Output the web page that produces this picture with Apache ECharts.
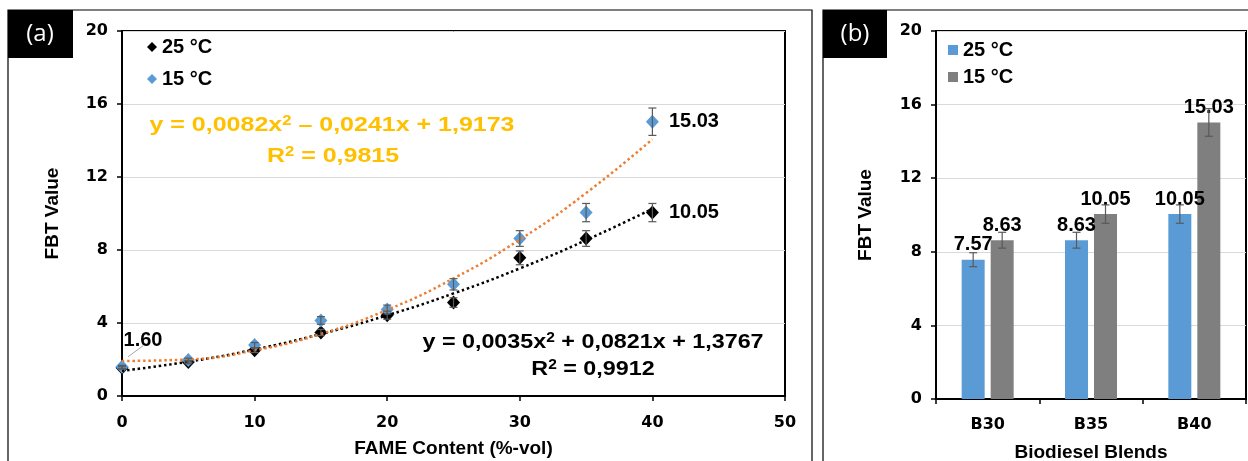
<!DOCTYPE html>
<html>
<head>
<meta charset="utf-8">
<script src="https://cdn.jsdelivr.net/npm/echarts@6/dist/echarts.min.js"></script>
<style>
html,body{margin:0;padding:0;background:#fff;}
#chart{width:1248px;height:461px;}
</style>
</head>
<body>
<div id="chart"></div>
<script>
// ---- Data ----
const fameContent = [0, 5, 10, 15, 20, 25, 30, 35, 40];
const fbt25 = [1.55, 1.86, 2.51, 3.48, 4.43, 5.12, 7.57, 8.63, 10.05];
const fbt15 = [1.60, 1.97, 2.79, 4.14, 4.74, 6.12, 8.63, 10.05, 15.03];
const err25 = [0.08, 0.09, 0.13, 0.17, 0.22, 0.26, 0.38, 0.43, 0.50];
const err15 = [0.08, 0.10, 0.14, 0.21, 0.24, 0.31, 0.43, 0.50, 0.75];
// trendline values read at the sample x positions
const trendX = [0, 5, 10, 15, 20, 25, 30, 35, 40];
const trend25 = [1.38, 1.88, 2.55, 3.40, 4.42, 5.62, 6.99, 8.54, 10.26];
const trend15 = [1.92, 2.00, 2.50, 3.40, 4.72, 6.44, 8.57, 11.12, 14.07];
const eq25 = ['y = 0,0035x² + 0,0821x + 1,3767', 'R² = 0,9912'];
const eq15 = ['y = 0,0082x² – 0,0241x + 1,9173', 'R² = 0,9815'];

const blends = ['B30', 'B35', 'B40'];
const bar25 = [7.57, 8.63, 10.05];
const bar15 = [8.63, 10.05, 15.03];
const barErr25 = [0.38, 0.43, 0.50];
const barErr15 = [0.43, 0.50, 0.75];

const seriesNames = ['25 °C', '15 °C'];
const xTicks = [0, 10, 20, 30, 40, 50];
const yTicks = [0, 4, 8, 12, 16, 20];

// ---- Styles ----
const FONT = '"Liberation Sans", Arial, sans-serif';
const TICKFONT = '"DejaVu Sans", sans-serif';
const BLUE = '#5B9BD5', GRAY = '#7F7F7F', ORANGE = '#ED7D31', GOLD = '#FFC000';
const ERRC = '#595959';
const BAR_W = 23, BAR_GAP_PX = 6;

function tickLabel() {
  return { color: '#000', fontFamily: TICKFONT, fontWeight: 'bold', fontSize: 16 };
}
function errRender(offsetPx) {
  return function (params, api) {
    const x = api.value(0), y = api.value(1), e = api.value(2);
    const t = api.coord([x, y + e]);
    const b = api.coord([x, y - e]);
    const cx = t[0] + offsetPx;
    const hw = 4;
    const st = { stroke: ERRC, lineWidth: 1.2 };
    return { type: 'group', children: [
      { type: 'line', shape: { x1: cx, y1: t[1], x2: cx, y2: b[1] }, style: st },
      { type: 'line', shape: { x1: cx - hw, y1: t[1], x2: cx + hw, y2: t[1] }, style: st },
      { type: 'line', shape: { x1: cx - hw, y1: b[1], x2: cx + hw, y2: b[1] }, style: st }
    ]};
  };
}

const lastIdx = fameContent.length - 1;
const valueLabel = { fontFamily: FONT, fontWeight: 'bold', fontSize: 20, color: '#000' };
const fmt2 = p => (Array.isArray(p.value) ? p.value[1] : p.value).toFixed(2);

const data25 = fameContent.map((x, i) => {
  const d = { value: [x, fbt25[i]] };
  if (i === lastIdx) d.label = Object.assign({ show: true, position: 'right', distance: 10, formatter: fmt2 }, valueLabel);
  return d;
});
const data15 = fameContent.map((x, i) => {
  const d = { value: [x, fbt15[i]] };
  if (i === lastIdx) d.label = Object.assign({ show: true, position: 'right', distance: 10, formatter: fmt2 }, valueLabel);
  if (i === 0) d.label = Object.assign({ show: true, position: 'top', distance: 5, formatter: fmt2 }, valueLabel);
  return d;
});

function eqText(s) { return s.replace('²', '{sup|2}'); }
function eqStyle(s, color) {
  return {
    text: eqText(s), fill: color, fontFamily: FONT, fontWeight: 'bold', fontSize: 21,
    textAlign: 'center', textVerticalAlign: 'middle',
    rich: { sup: { fill: color, fontFamily: FONT, fontWeight: 'bold', fontSize: 14, verticalAlign: 'top', lineHeight: 21 } }
  };
}

const axisLineStyle = { show: true, lineStyle: { color: '#000', width: 2 } };
const tickStyle = { show: true, inside: false, length: 5, lineStyle: { color: '#000', width: 1.5 } };
const splitStyle = { show: true, lineStyle: { color: '#D9D9D9', width: 1 } };
const nameStyle = { color: '#000', fontFamily: FONT, fontWeight: 'bold', fontSize: 19 };

const option = {
  animation: false,
  backgroundColor: '#fff',
  grid: [
    { left: 122, top: 31, width: 663, height: 365, containLabel: false, outerBoundsMode: 'none',
      show: true, borderColor: '#000', borderWidth: 2, backgroundColor: 'transparent' },
    { left: 936, top: 31, width: 310, height: 368, containLabel: false, outerBoundsMode: 'none',
      show: true, borderColor: '#000', borderWidth: 2, backgroundColor: 'transparent' }
  ],
  xAxis: [
    { gridIndex: 0, type: 'value', min: xTicks[0], max: xTicks[xTicks.length - 1], interval: 10,
      axisLine: axisLineStyle, axisTick: tickStyle, splitLine: { show: false },
      axisLabel: Object.assign({ margin: 19 }, tickLabel()),
      name: 'FAME Content (%-vol)', nameLocation: 'middle', nameGap: 43, nameTextStyle: nameStyle },
    { gridIndex: 1, type: 'category', data: blends,
      axisLine: axisLineStyle, axisTick: Object.assign({ alignWithLabel: false }, tickStyle), splitLine: { show: false },
      axisLabel: Object.assign({ margin: 18 }, tickLabel()),
      name: 'Biodiesel Blends', nameLocation: 'middle', nameGap: 44, nameTextStyle: nameStyle }
  ],
  yAxis: [
    { gridIndex: 0, type: 'value', min: yTicks[0], max: yTicks[yTicks.length - 1], interval: 4,
      axisLine: axisLineStyle, axisTick: tickStyle, splitLine: splitStyle,
      axisLabel: Object.assign({ margin: 14 }, tickLabel()),
      name: 'FBT Value', nameLocation: 'middle', nameGap: 60, nameRotate: 90, nameTextStyle: nameStyle },
    { gridIndex: 1, type: 'value', min: yTicks[0], max: yTicks[yTicks.length - 1], interval: 4,
      axisLine: axisLineStyle, axisTick: tickStyle, splitLine: splitStyle,
      axisLabel: Object.assign({ margin: 14 }, tickLabel()),
      name: 'FBT Value', nameLocation: 'middle', nameGap: 61, nameRotate: 90, nameTextStyle: nameStyle }
  ],
  legend: [
    { data: seriesNames, orient: 'vertical', left: 142, top: 32, itemGap: 12, icon: 'diamond',
      itemWidth: 10, itemHeight: 10, selectedMode: false,
      textStyle: { fontFamily: FONT, fontWeight: 'bold', fontSize: 20, color: '#000', lineHeight: 20 } },
    { data: ['bar25', 'bar15'], orient: 'vertical', left: 943, top: 35, itemGap: 7, icon: 'rect',
      itemWidth: 10, itemHeight: 10, selectedMode: false,
      formatter: n => (n === 'bar25' ? seriesNames[0] : seriesNames[1]),
      textStyle: { fontFamily: FONT, fontWeight: 'bold', fontSize: 20, color: '#000', lineHeight: 20 } }
  ],
  series: [
    { name: seriesNames[0], type: 'scatter', xAxisIndex: 0, yAxisIndex: 0, symbol: 'diamond', symbolSize: [13, 14],
      itemStyle: { color: '#000', opacity: 1 }, data: data25, z: 3 },
    { name: seriesNames[1], type: 'scatter', xAxisIndex: 0, yAxisIndex: 0, symbol: 'diamond', symbolSize: [13, 14],
      itemStyle: { color: BLUE, opacity: 1 }, data: data15, z: 4,
      labelLayout: p => (p.dataIndex === 0 ? { dx: 21, dy: -4 } : {}) },
    { name: 'trend25', type: 'line', xAxisIndex: 0, yAxisIndex: 0, smooth: 0.5, showSymbol: false, symbol: 'none',
      lineStyle: { color: '#000', width: 2.5, type: [2.5, 2.8] }, data: trendX.map((x, i) => [x, trend25[i]]), z: 5 },
    { name: 'trend15', type: 'line', xAxisIndex: 0, yAxisIndex: 0, smooth: 0.5, showSymbol: false, symbol: 'none',
      lineStyle: { color: ORANGE, width: 2.5, type: [2.5, 2.8] }, data: trendX.map((x, i) => [x, trend15[i]]), z: 5 },
    { name: 'err25', type: 'custom', xAxisIndex: 0, yAxisIndex: 0, renderItem: errRender(0),
      data: fameContent.map((x, i) => [x, fbt25[i], err25[i]]), z: 6 },
    { name: 'err15', type: 'custom', xAxisIndex: 0, yAxisIndex: 0, renderItem: errRender(0),
      data: fameContent.map((x, i) => [x, fbt15[i], err15[i]]), z: 6 },

    { name: 'bar25', type: 'bar', xAxisIndex: 1, yAxisIndex: 1, barWidth: BAR_W, barGap: (BAR_GAP_PX / BAR_W * 100) + '%',
      itemStyle: { color: BLUE }, data: bar25,
      label: Object.assign({ show: true, position: 'top', distance: 5, formatter: fmt2 }, valueLabel) },
    { name: 'bar15', type: 'bar', xAxisIndex: 1, yAxisIndex: 1, barWidth: BAR_W,
      itemStyle: { color: GRAY }, data: bar15,
      label: Object.assign({ show: true, position: 'top', distance: 5, formatter: fmt2 }, valueLabel) },
    { name: 'barErr25', type: 'custom', xAxisIndex: 1, yAxisIndex: 1, renderItem: errRender(-(BAR_W + BAR_GAP_PX) / 2),
      data: blends.map((c, i) => [i, bar25[i], barErr25[i]]), z: 6 },
    { name: 'barErr15', type: 'custom', xAxisIndex: 1, yAxisIndex: 1, renderItem: errRender((BAR_W + BAR_GAP_PX) / 2),
      data: blends.map((c, i) => [i, bar15[i], barErr15[i]]), z: 6 }
  ],
  graphic: [
    { type: 'rect', shape: { x: 8, y: 10, width: 804, height: 480 }, style: { fill: 'none', stroke: '#000', lineWidth: 1.2 }, silent: true, z: -1 },
    { type: 'rect', shape: { x: 823, y: 10, width: 440, height: 480 }, style: { fill: 'none', stroke: '#000', lineWidth: 1.2 }, silent: true, z: -1 },
    { type: 'rect', shape: { x: 8, y: 10, width: 65, height: 48 }, style: { fill: '#000' }, silent: true },
    { type: 'rect', shape: { x: 823, y: 10, width: 64, height: 48 }, style: { fill: '#000' }, silent: true },
    { type: 'text', x: 40, y: 34, style: { text: '(a)', fill: '#fff', font: '24px "Open Sans", sans-serif', textAlign: 'center', textVerticalAlign: 'middle' }, silent: true },
    { type: 'text', x: 855, y: 34, style: { text: '(b)', fill: '#fff', font: '24px "Open Sans", sans-serif', textAlign: 'center', textVerticalAlign: 'middle' }, silent: true },
    { type: 'text', x: 332, y: 125, scaleX: 1.19, style: eqStyle(eq15[0], GOLD), silent: true },
    { type: 'text', x: 333, y: 156, scaleX: 1.19, style: eqStyle(eq15[1], GOLD), silent: true },
    { type: 'text', x: 593, y: 342, scaleX: 1.11, style: eqStyle(eq25[0], '#000'), silent: true },
    { type: 'text', x: 593, y: 369, scaleX: 1.11, style: eqStyle(eq25[1], '#000'), silent: true }
  ]
};

const chart = echarts.init(document.getElementById('chart'), null, { renderer: 'canvas' });
chart.setOption(option);

// leader line from the x=0 point toward its "1.60" label, positioned via the axis scales
const p0 = chart.convertToPixel({ gridIndex: 0 }, [fameContent[0], fbt15[0]]);
chart.setOption({ graphic: option.graphic.concat([
  { type: 'line', shape: { x1: p0[0] + 6, y1: p0[1] - 10, x2: p0[0] + 21, y2: p0[1] - 21 },
    style: { stroke: '#A6A6A6', lineWidth: 1 }, silent: true, z: 10 }
]) });
</script>
</body>
</html>
